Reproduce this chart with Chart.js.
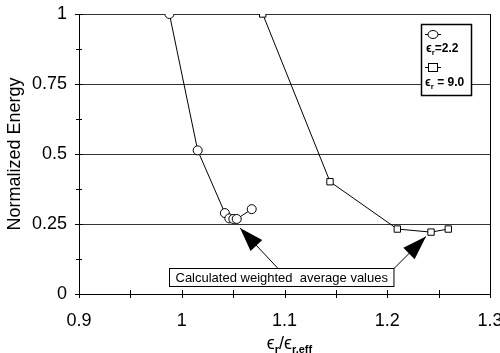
<!DOCTYPE html>
<html><head><meta charset="utf-8">
<script src="https://cdn.jsdelivr.net/npm/chart.js@4/dist/chart.umd.min.js"></script>
<style>html,body{margin:0;padding:0;background:#fff}#wrap{width:500px;height:353px}</style>
</head><body><div id="wrap"><canvas id="c" width="500" height="353"></canvas></div>
<script>
// ---- data ----
const circleX = [0.988, 1.0155, 1.042, 1.0463, 1.0502, 1.0535, 1.0681];
const circleY = [1.0, 0.513, 0.289, 0.270, 0.268, 0.268, 0.303];
const squareX = [1.0788, 1.1443, 1.2098, 1.2426, 1.2594];
const squareY = [1.0, 0.401, 0.232, 0.221, 0.232];
const seriesLabels = ['=2.2', ' = 9.0'];
const xTickValues = [0.9, 1, 1.1, 1.2, 1.3];
const xTickLabels = ['0.9', '1', '1.1', '1.2', '1.3'];
const xMinorTicks = [0.95, 1.05, 1.15, 1.25];
const yTickValues = [0, 0.25, 0.5, 0.75, 1];
const yTickLabels = ['0', '0.25', '0.5', '0.75', '1'];
const yMinorTicks = [0.125, 0.375, 0.625, 0.875];
const yTitle = 'Normalized Energy';
const noteText = 'Calculated weighted  average values';
const noteAnchor = [1.0966, 0.06];
const noteTargets = [[1.0567, 0.236], [1.2377, 0.205]];

const FAM = '"Liberation Sans", Arial, "DejaVu Sans", sans-serif';
const EPS = '\u03F5';

function pts(xs, ys) { return xs.map((x, i) => ({ x: x, y: ys[i] })); }

function drawArrow(ctx, x0, y0, x1, y1) {
  ctx.beginPath(); ctx.moveTo(x0, y0); ctx.lineTo(x1, y1); ctx.stroke();
  const a = Math.atan2(y1 - y0, x1 - x0), L = 24, W = 8;
  const bx = x1 - L * Math.cos(a), by = y1 - L * Math.sin(a);
  ctx.beginPath();
  ctx.moveTo(x1, y1);
  ctx.lineTo(bx + W * Math.sin(a), by - W * Math.cos(a));
  ctx.lineTo(bx - W * Math.sin(a), by + W * Math.cos(a));
  ctx.closePath(); ctx.fill();
}

function epsText(ctx, x, y, big, small, sub, rest, bold) {
  const b = bold ? 'bold ' : '';
  ctx.textBaseline = 'alphabetic'; ctx.textAlign = 'left';
  ctx.font = b + big + 'px ' + FAM; ctx.fillText(EPS, x, y); x += ctx.measureText(EPS).width;
  ctx.font = 'bold ' + small + 'px ' + FAM; ctx.fillText(sub, x, y + small * 0.35); x += ctx.measureText(sub).width;
  ctx.font = b + big + 'px ' + FAM; ctx.fillText(rest, x, y); x += ctx.measureText(rest).width;
  return x;
}

const extras = {
  id: 'extras',
  beforeDatasetsDraw(chart) {
    const { ctx, chartArea: ca, scales: { x, y } } = chart;
    ctx.save();
    ctx.strokeStyle = '#000'; ctx.lineWidth = 1;
    ctx.beginPath();
    ctx.moveTo(ca.right + 0.5, ca.top); ctx.lineTo(ca.right + 0.5, ca.bottom);
    xTickValues.concat(xMinorTicks).forEach(v => {
      const px = Math.round(x.getPixelForValue(v)) + 0.5;
      ctx.moveTo(px, ca.bottom - 4); ctx.lineTo(px, ca.bottom + 4);
    });
    yTickValues.forEach(v => {
      const py = Math.round(y.getPixelForValue(v)) + 0.5;
      ctx.moveTo(ca.left - 4, py); ctx.lineTo(ca.left + 4, py);
    });
    yMinorTicks.forEach(v => {
      const py = Math.round(y.getPixelForValue(v)) + 0.5;
      ctx.moveTo(ca.left - 3, py); ctx.lineTo(ca.left + 3, py);
    });
    ctx.stroke();
    ctx.restore();
  },
  afterDatasetsDraw(chart) {
    const { ctx, chartArea: ca, scales: { x, y } } = chart;
    ctx.save();
    ctx.fillStyle = '#000'; ctx.strokeStyle = '#000'; ctx.lineWidth = 1;
    // annotation box
    ctx.font = '13px ' + FAM;
    const tw = ctx.measureText(noteText).width;
    const cx = x.getPixelForValue(noteAnchor[0]), cy = y.getPixelForValue(noteAnchor[1]);
    const bw = tw + 12, bh = 18;
    const bl = Math.round(cx - bw / 2) + 0.5, bt = Math.round(cy - bh / 2) + 0.5;
    // arrows
    const starts = [[x.getPixelForValue(1.0937), bt], [bl + bw, bt]];
    noteTargets.forEach((t, i) => {
      drawArrow(ctx, starts[i][0], starts[i][1], x.getPixelForValue(t[0]), y.getPixelForValue(t[1]));
    });
    ctx.fillStyle = '#fff';
    ctx.fillRect(bl, bt, bw, bh);
    ctx.strokeRect(bl, bt, bw, bh);
    ctx.fillStyle = '#000'; ctx.textAlign = 'center'; ctx.textBaseline = 'middle';
    ctx.fillText(noteText, bl + bw / 2, bt + bh / 2 + 1);
    // legend
    const lx = 421.5, ly = 24.5, lw = 50, lh = 71;
    ctx.fillStyle = '#fff'; ctx.fillRect(lx, ly, lw, lh);
    ctx.lineWidth = 1.5; ctx.strokeRect(lx, ly, lw, lh); ctx.lineWidth = 1;
    ctx.fillStyle = '#000';
    // circle item
    ctx.beginPath(); ctx.moveTo(425, 34.5); ctx.lineTo(441, 34.5); ctx.stroke();
    ctx.beginPath(); ctx.ellipse(433, 34.5, 5, 4, 0, 0, Math.PI * 2);
    ctx.fillStyle = '#fff'; ctx.fill(); ctx.stroke(); ctx.fillStyle = '#000';
    epsText(ctx, 426, 52, 12, 8, 'r', seriesLabels[0], true);
    // square item
    ctx.beginPath(); ctx.moveTo(425, 67.5); ctx.lineTo(441, 67.5); ctx.stroke();
    ctx.fillStyle = '#fff'; ctx.fillRect(428.5, 63.5, 9, 8); ctx.strokeRect(428.5, 63.5, 9, 8); ctx.fillStyle = '#000';
    epsText(ctx, 425, 86, 12, 8, 'r', seriesLabels[1], true);
    // x title with subscripts
    ctx.font = '18px ' + FAM;
    const e = ctx.measureText(EPS).width, sl = ctx.measureText('/').width;
    ctx.font = 'bold 11px ' + FAM;
    const s1 = ctx.measureText('r').width, s2 = ctx.measureText('r,eff').width;
    const total = 2 * e + sl + s1 + s2;
    let tx = (ca.left + ca.right) / 2 + 5 - total / 2;
    const ty = 349;
    ctx.textAlign = 'left'; ctx.textBaseline = 'alphabetic';
    ctx.font = '18px ' + FAM; ctx.fillText(EPS, tx, ty); tx += e;
    ctx.font = 'bold 11px ' + FAM; ctx.fillText('r', tx, ty + 4); tx += s1;
    ctx.font = '18px ' + FAM; ctx.fillText('/', tx, ty); tx += sl;
    ctx.fillText(EPS, tx, ty); tx += e;
    ctx.font = 'bold 11px ' + FAM; ctx.fillText('r,eff', tx, ty + 4);
    ctx.restore();
  }
};

new Chart(document.getElementById('c'), {
  type: 'scatter',
  data: {
    datasets: [
      { data: pts(circleX, circleY), showLine: true, borderColor: '#000', borderWidth: 1,
        pointStyle: 'circle', pointRadius: 4.5, pointBackgroundColor: '#fff', pointBorderColor: '#000', pointBorderWidth: 1 },
      { data: pts(squareX, squareY), showLine: true, borderColor: '#000', borderWidth: 1,
        pointStyle: 'rect', pointRadius: 4.5, pointBackgroundColor: '#fff', pointBorderColor: '#000', pointBorderWidth: 1 }
    ]
  },
  options: {
    responsive: false, animation: false, devicePixelRatio: 1,
    layout: { padding: { top: 14, right: 10, left: 0, bottom: 0 } },
    plugins: { legend: { display: false }, tooltip: { enabled: false } },
    scales: {
      x: {
        type: 'linear', min: 0.9, max: 1.3,
        afterBuildTicks: s => { s.ticks = xTickValues.map(v => ({ value: v })); },
        afterFit: s => { s.height = 59; s.paddingLeft = 0; s.paddingRight = 0; },
        ticks: { callback: (v, i) => xTickLabels[i], color: '#000', font: { family: FAM, size: 18 }, padding: 16, maxRotation: 0, autoSkip: false },
        grid: { display: true, drawOnChartArea: false, drawTicks: false },
        border: { display: true, color: '#000', width: 1 }
      },
      y: {
        min: 0, max: 1,
        afterBuildTicks: s => { s.ticks = yTickValues.map(v => ({ value: v })); },
        afterFit: s => { s.width = 79; s.paddingTop = 0; s.paddingBottom = 0; },
        ticks: { callback: (v, i) => yTickLabels[i], color: '#000', font: { family: FAM, size: 18 }, padding: 12, autoSkip: false },
        grid: { color: '#333', lineWidth: 1, drawTicks: false },
        border: { display: true, color: '#000', width: 1 },
        title: { display: true, text: yTitle, color: '#000', font: { family: FAM, size: 18 }, padding: { top: 4, bottom: 0 } }
      }
    }
  },
  plugins: [extras]
});
</script>
</body></html>
